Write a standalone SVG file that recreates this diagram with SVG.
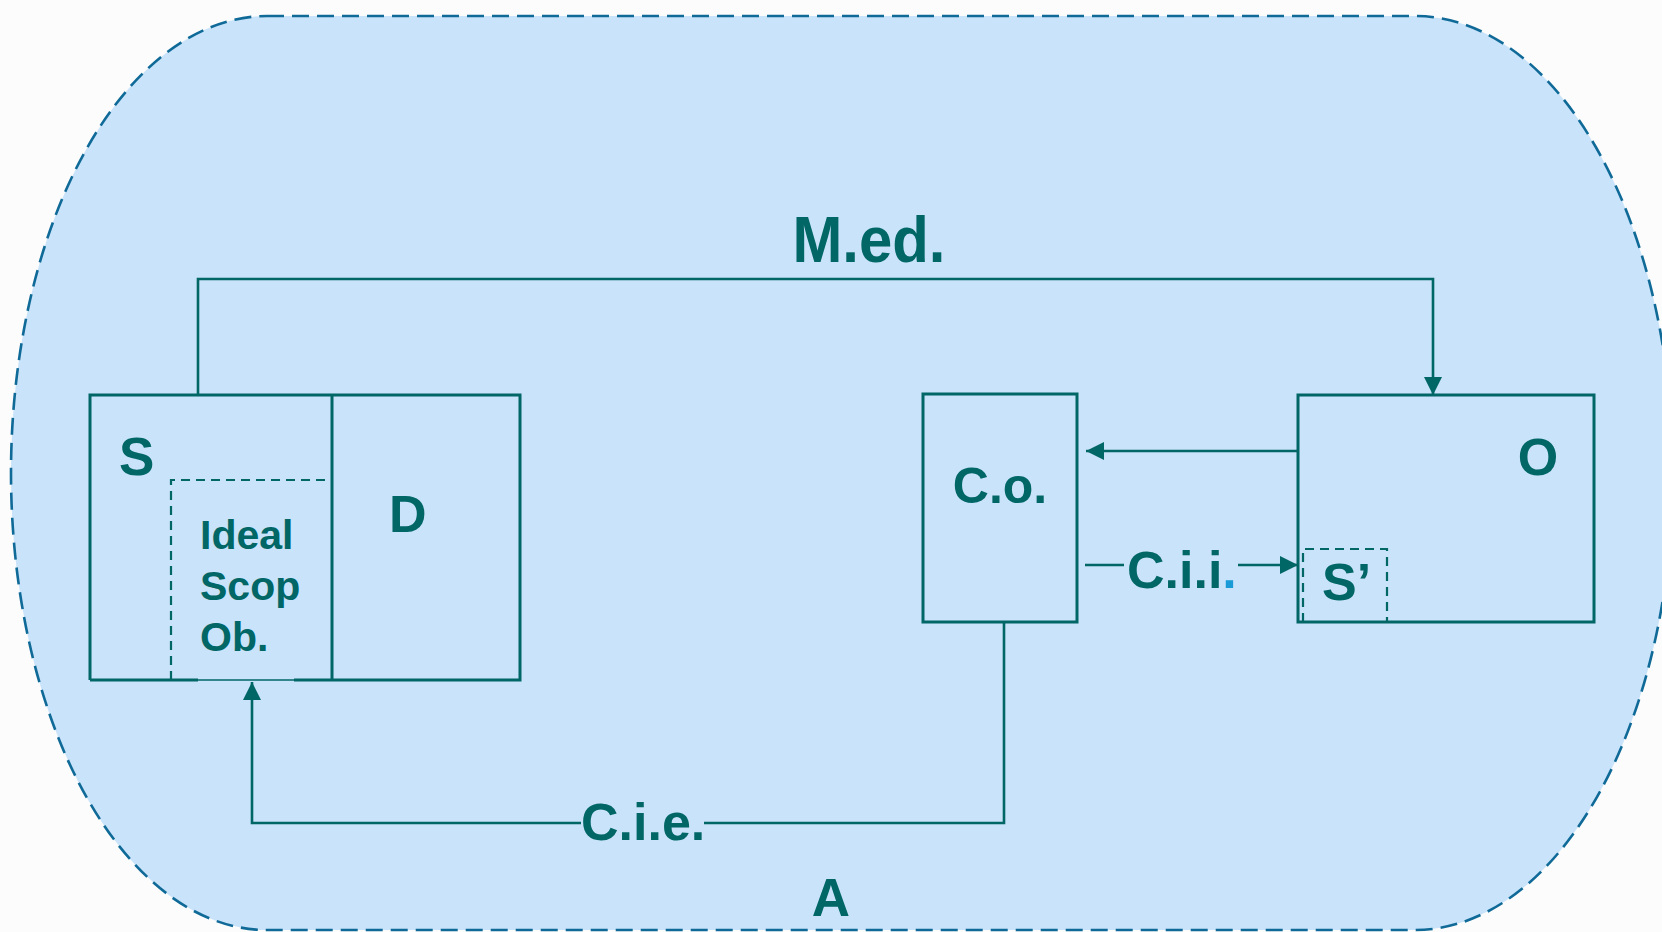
<svg xmlns="http://www.w3.org/2000/svg" width="1662" height="932" viewBox="0 0 1662 932">
  <style>
    .box { fill: none; stroke: #006666; stroke-width: 3; }
    .dbox { fill: none; stroke: #006666; stroke-width: 2.2; stroke-dasharray: 9 6; }
    .conn { fill: none; stroke: #006666; stroke-width: 2.6; }
    .t { font-family: "Liberation Sans", Arial, sans-serif; font-weight: bold; fill: #006666; }
  </style>
  <defs>
    <marker id="arr" markerUnits="userSpaceOnUse" markerWidth="18" markerHeight="18" viewBox="0 0 16 16" refX="16" refY="8" orient="auto">
      <path d="M0,0 L16,8 L0,16 Z" fill="#006666"/>
    </marker>
  </defs>
  <rect x="0" y="0" width="1662" height="932" fill="#FCFCFC"/>
  <g id="A">
    <path d="M 267 16 L 1415 16 A 258 457 0 0 1 1415 930 L 267 930 A 256 457 0 0 1 267 16 Z" fill="#C8E3FA" stroke="#106A98" stroke-width="2.6" stroke-dasharray="17 8"/>
    <text class="t" x="831" y="916" font-size="53" text-anchor="middle">A</text>
  </g>
  <g id="S">
    <path class="box" d="M 90 680 L 90 395 L 520 395 L 520 680 L 294 680"/>
    <path class="box" d="M 90 680 L 198 680"/>
    <path fill="none" stroke="#006666" stroke-width="1.5" d="M 198 680 L 294 680"/>
    <line class="box" x1="332" y1="395" x2="332" y2="680"/>
    <text class="t" x="119" y="475" font-size="53">S</text>
  </g>
  <g id="IdealScopOb">
    <path class="dbox" d="M 171 680 L 171 480 L 332 480"/>
    <text class="t" x="200" y="549" font-size="41">Ideal</text>
    <text class="t" x="200" y="600" font-size="41">Scop</text>
    <text class="t" x="200" y="651" font-size="41">Ob.</text>
  </g>
  <g id="D">
    <text class="t" x="389" y="532" font-size="52">D</text>
  </g>
  <g id="Co">
    <rect class="box" x="923" y="394" width="154" height="228"/>
    <text class="t" x="1000" y="503" font-size="50" text-anchor="middle">C.o.</text>
  </g>
  <g id="O">
    <rect class="box" x="1298" y="395" width="296" height="227"/>
    <text class="t" x="1538" y="475" font-size="52" text-anchor="middle">O</text>
  </g>
  <g id="Sprime">
    <path class="dbox" d="M 1303 622 L 1303 549 L 1387 549 L 1387 622 Z"/>
    <text class="t" x="1322" y="600" font-size="52">S’</text>
  </g>
  <g id="connectors">
    <path class="conn" d="M 198 395 L 198 279 L 1433 279 L 1433 395" marker-end="url(#arr)"/>
    <path class="conn" d="M 1298 451 L 1086 451" marker-end="url(#arr)"/>
    <path class="conn" d="M 1085 565 L 1124 565"/>
    <path class="conn" d="M 1238 565 L 1298 565" marker-end="url(#arr)"/>
    <path class="conn" d="M 1004 622 L 1004 823 L 704 823"/>
    <path class="conn" d="M 581 823 L 252 823 L 252 682" marker-end="url(#arr)"/>
    <text class="t" x="869" y="262" font-size="64" text-anchor="middle" textLength="153" lengthAdjust="spacingAndGlyphs">M.ed.</text>
    <text class="t" x="1127" y="588" font-size="52">C.i.i<tspan fill="#1A9AD6">.</tspan></text>
    <text class="t" x="581" y="840" font-size="52">C.i.e.</text>
  </g>
</svg>
